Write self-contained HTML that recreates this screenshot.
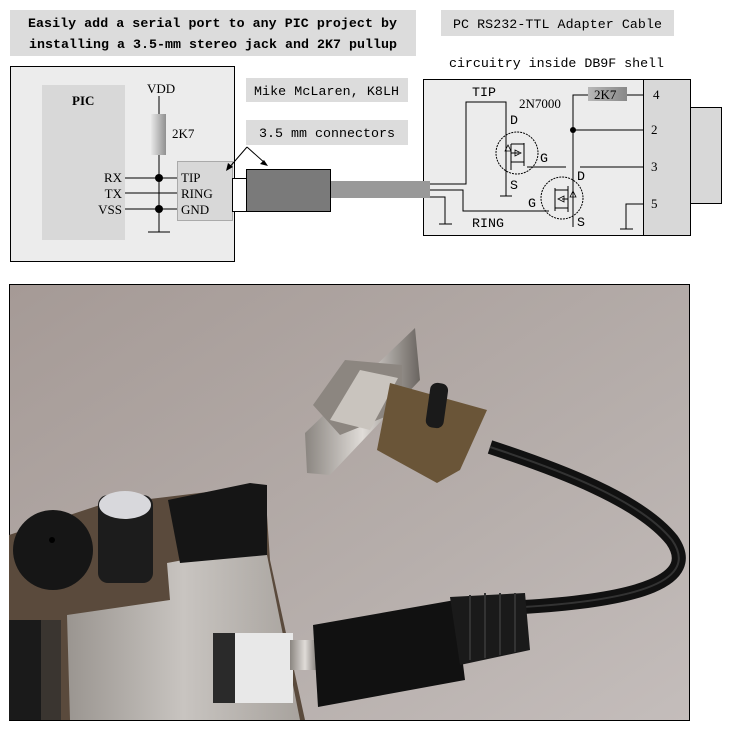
<!DOCTYPE html>
<html><head><meta charset="utf-8"><style>
html,body{margin:0;padding:0;background:#fff;width:733px;height:731px;overflow:hidden}
svg{display:block}
.m{font-family:"Liberation Mono",monospace;font-size:13.3px;fill:#000}
.s{font-family:"Liberation Serif",serif;font-size:13px;fill:#000}
</style></head><body>
<svg width="733" height="731" viewBox="0 0 733 731" xmlns="http://www.w3.org/2000/svg">
<defs>
<linearGradient id="res" x1="0" x2="1"><stop offset="0" stop-color="#e8e8e8"/><stop offset="1" stop-color="#909090"/></linearGradient>
<linearGradient id="r2" x1="0" x2="1"><stop offset="0" stop-color="#b8b8b8"/><stop offset="1" stop-color="#888"/></linearGradient>
<linearGradient id="bg" x1="0" y1="0" x2="1" y2="1"><stop offset="0" stop-color="#a59a96"/><stop offset="0.6" stop-color="#b6aeab"/><stop offset="1" stop-color="#c4bdbb"/></linearGradient>
<linearGradient id="met" x1="0" x2="1"><stop offset="0" stop-color="#8a8580"/><stop offset="0.5" stop-color="#e0dcd8"/><stop offset="1" stop-color="#6a6560"/></linearGradient>
<linearGradient id="pad" x1="0" x2="1"><stop offset="0" stop-color="#9a9590"/><stop offset="0.5" stop-color="#c8c4c0"/><stop offset="1" stop-color="#a8a39e"/></linearGradient>
</defs>
<!-- Title -->
<rect x="10" y="10" width="406" height="46" fill="#dcdcdc"/>
<text class="m" x="28" y="27" font-weight="bold" textLength="369">Easily add a serial port to any PIC project by</text>
<text class="m" x="29" y="48" font-weight="bold" textLength="368">installing a 3.5-mm stereo jack and 2K7 pullup</text>
<!-- left box -->
<rect x="10.5" y="66.5" width="224" height="195" fill="#ececec" stroke="#000"/>
<rect x="42" y="85" width="83" height="155" fill="#d8d8d8"/>
<text class="s" x="72" y="105" font-weight="bold">PIC</text>
<text class="s" x="147" y="93">VDD</text>
<line x1="159" y1="96" x2="159" y2="114" stroke="#000"/>
<rect x="151" y="114" width="15" height="41" fill="url(#res)"/>
<line x1="159" y1="155" x2="159" y2="232" stroke="#000"/>
<line x1="148" y1="232" x2="170" y2="232" stroke="#000"/>
<text class="s" x="172" y="138">2K7</text>
<text class="s" x="122" y="182" text-anchor="end">RX</text>
<text class="s" x="122" y="198" text-anchor="end">TX</text>
<text class="s" x="122" y="214" text-anchor="end">VSS</text>
<rect x="177.5" y="161.5" width="55" height="59" fill="#d8d8d8" stroke="#aaa"/>
<line x1="125" y1="178" x2="177" y2="178" stroke="#000"/>
<line x1="125" y1="193" x2="177" y2="193" stroke="#000"/>
<line x1="125" y1="209" x2="177" y2="209" stroke="#000"/>
<circle cx="159" cy="178" r="4" fill="#000"/><circle cx="159" cy="209" r="4" fill="#000"/>
<text class="s" x="181" y="182">TIP</text>
<text class="s" x="181" y="198">RING</text>
<text class="s" x="181" y="214">GND</text>
<rect x="232.5" y="178.5" width="14" height="33" fill="#fff" stroke="#000"/>
<rect x="246.5" y="169.5" width="84" height="42" fill="#7a7a7a" stroke="#000"/>
<rect x="331" y="181" width="100" height="17" fill="#999"/>
<rect x="246" y="78" width="162" height="24" fill="#dcdcdc"/>
<text class="m" x="254" y="95" textLength="145">Mike McLaren, K8LH</text>
<rect x="246" y="120" width="162" height="25" fill="#dcdcdc"/>
<text class="m" x="259" y="137" textLength="136">3.5 mm connectors</text>
<path d="M247 147 L228 169 M247 147 L266 164" stroke="#000" fill="none"/>
<path d="M226 171 L228 163 L233 167Z M268 166 L260 164 L264 160Z" fill="#000"/>
<!-- right header -->
<rect x="441" y="10" width="233" height="26" fill="#dcdcdc"/>
<text class="m" x="453" y="28" textLength="209">PC RS232-TTL Adapter Cable</text>
<text class="m" x="449" y="67" textLength="215">circuitry inside DB9F shell</text>
<rect x="423.5" y="79.5" width="267" height="156" fill="#ececec" stroke="#000"/>
<rect x="643.5" y="79.5" width="47" height="156" fill="#d8d8d8" stroke="#000"/>
<rect x="690.5" y="107.5" width="31" height="96" fill="#d8d8d8" stroke="#000"/>
<rect x="420" y="181" width="10" height="17" fill="#999"/>
<g stroke="#000" fill="none">
<path d="M430 184 H466 V102 H506 V196 M500 196 H512"/>
<path d="M430 190 H463 V211 H549"/>
<path d="M430 197 H445 V224 M439 224 H452"/>
<path d="M527 167 H566 M580 167 H643"/>
<path d="M573 227 V95 H588 M627 95 H643 M573 130 H643"/>
<path d="M643 204 H626 V229 M620 229 H633"/>
<circle cx="517" cy="153" r="21" stroke-dasharray="2,1"/>
<circle cx="562" cy="198" r="21" stroke-dasharray="2,1"/>
<path d="M524 143 V166 M511 144 H524 M511 162 H524 M511 153 H519 M511 144 V170"/>
<path d="M555 188 V211 M555 190 H568 M555 208 H568 M562 199 H568 M568 186 V212"/>
</g>
<path d="M505 151 L508 145 L511 151Z M515 150 L521 153 L515 156Z" fill="none" stroke="#000" stroke-width="0.8"/>
<path d="M570 197 L573 191 L576 197Z M558 199 L564 196 L564 202Z" fill="none" stroke="#000" stroke-width="0.8"/>
<circle cx="573" cy="130" r="3" fill="#000"/>
<rect x="588" y="87" width="39" height="14" fill="url(#r2)"/>
<text class="s" x="594" y="99">2K7</text>
<text class="s" x="653" y="99">4</text><text class="s" x="651" y="134">2</text>
<text class="s" x="651" y="171">3</text><text class="s" x="651" y="208">5</text>
<text class="m" x="472" y="96">TIP</text>
<text class="s" x="519" y="108">2N7000</text>
<text class="m" x="510" y="124">D</text><text class="m" x="540" y="162">G</text><text class="m" x="510" y="189">S</text>
<text class="m" x="577" y="180">D</text><text class="m" x="528" y="207">G</text><text class="m" x="577" y="226">S</text>
<text class="m" x="472" y="227">RING</text>
<!-- photo -->
<rect x="9.5" y="284.5" width="680" height="436" fill="url(#bg)" stroke="#000"/>
<!-- DB9 -->
<polygon points="307,473 305,433 415,328 420,380 330,475" fill="url(#met)"/>
<polygon points="313,405 345,360 402,365 402,410 340,435" fill="#8c8680"/>
<polygon points="330,420 360,370 398,378 370,430" fill="#c9c4be"/>
<polygon points="377,450 390,383 487,410 460,470 437,483" fill="#6a5538"/>
<rect x="428" y="383" width="18" height="45" rx="7" fill="#1a1a1a" transform="rotate(8 437 405)"/>
<!-- cable -->
<path d="M490 447 C560 470 640 500 672 540 C700 580 640 600 523 607" stroke="#111" stroke-width="14" fill="none"/>
<path d="M490 447 C560 470 640 500 672 540 C700 580 640 600 523 607" stroke="#333" stroke-width="2" fill="none"/>
<!-- board -->
<polygon points="9,535 100,505 265,485 270,560 305,720 9,720" fill="#5a4a3c"/>
<polygon points="67,615 170,600 167,563 265,545 300,720 70,720" fill="url(#pad)"/>
<rect x="9" y="620" width="32" height="100" fill="#1a1a1a"/>
<rect x="41" y="620" width="20" height="100" fill="#3a3530"/>
<circle cx="53" cy="550" r="40" fill="#161616"/><circle cx="52" cy="540" r="3" fill="#000"/>
<rect x="98" y="495" width="55" height="88" rx="10" fill="#1c1c1c"/>
<ellipse cx="125" cy="505" rx="26" ry="14" fill="#d8d8dc"/>
<polygon points="168,500 250,483 267,485 267,555 180,563" fill="#151515"/>
<rect x="213" y="633" width="80" height="70" fill="#e8e8e8"/>
<rect x="213" y="633" width="22" height="70" fill="#2a2a2a"/>
<!-- plug -->
<rect x="290" y="640" width="30" height="30" fill="url(#met)"/>
<polygon points="313,625 455,600 465,680 318,707" fill="#111"/>
<polygon points="450,597 525,593 530,650 460,665" fill="#1a1a1a"/>
<path d="M470 595 V660 M485 593 V658 M500 593 V655 M515 593 V652" stroke="#333" stroke-width="2"/>
</svg>
</body></html>
